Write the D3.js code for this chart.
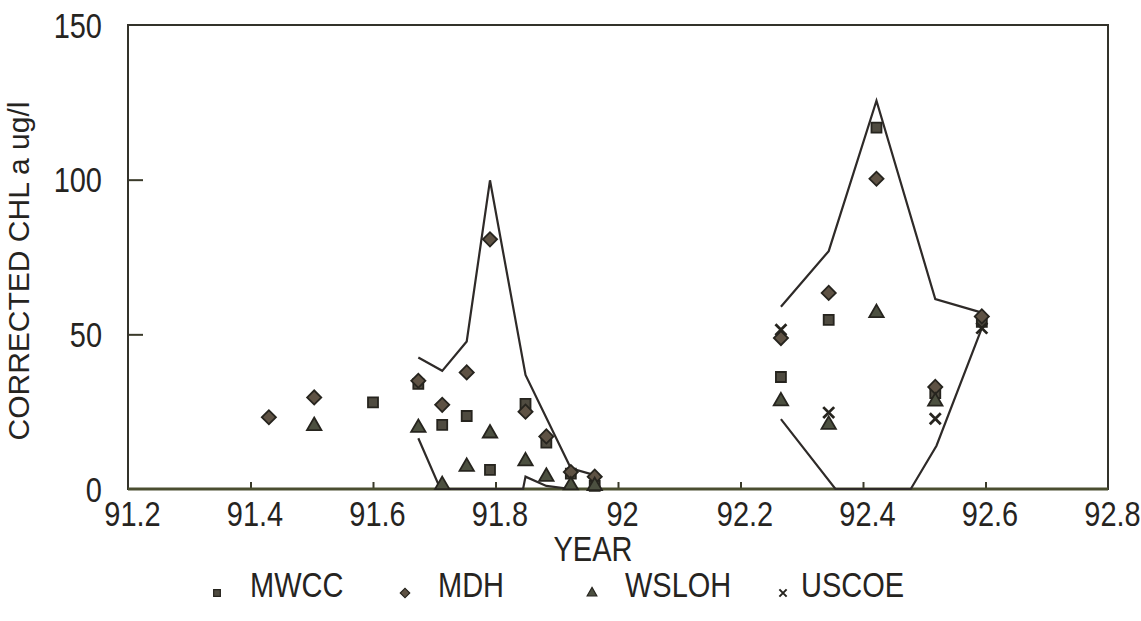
<!DOCTYPE html>
<html>
<head>
<meta charset="utf-8">
<script src="https://cdn.jsdelivr.net/npm/d3@7"></script>
<style>
  body { margin: 0; background: #fff; }
  text { font-family: "Liberation Sans", Arial, sans-serif; fill: #26241f; }
</style>
</head>
<body>
<div id="chart"></div>
<script>
// tick values
var xTicks = [91.2, 91.4, 91.6, 91.8, 92, 92.2, 92.4, 92.6, 92.8];
var yTicks = [0, 50, 100, 150];

// sampling data
var mwccYear = [91.60, 91.674, 91.713, 91.753, 91.791, 91.849, 91.883, 91.923, 91.962, 92.266, 92.344, 92.422, 92.518, 92.594];
var mwccChl  = [28, 34, 20.7, 23.6, 6.2, 27.5, 15, 5, 1, 36.2, 54.7, 116.8, 31, 54];

var mdhYear = [91.43, 91.504, 91.674, 91.713, 91.753, 91.791, 91.849, 91.883, 91.923, 91.962, 92.266, 92.344, 92.422, 92.518, 92.594];
var mdhChl  = [23.2, 29.6, 35, 27.2, 37.7, 80.7, 25, 17, 5.5, 4, 48.8, 63.4, 100.3, 33, 55.8];

var wslohYear = [91.504, 91.674, 91.713, 91.753, 91.791, 91.849, 91.883, 91.923, 91.962, 92.266, 92.344, 92.422, 92.518];
var wslohChl  = [20.4, 19.8, 1.3, 7.2, 18, 9, 4, 1.2, 1, 28.4, 20.8, 56.9, 28.3];

var uscoeYear = [92.266, 92.344, 92.518, 92.594];
var uscoeChl  = [51.5, 24.7, 22.7, 52];

// envelope lines
var upper1Year = [91.674, 91.713, 91.753, 91.791, 91.849, 91.923, 91.962];
var upper1Chl  = [42.5, 38.2, 47.7, 99.8, 36.9, 6.7, 4.5];
var lower1Year = [91.674, 91.71, 91.845, 91.849, 91.883, 91.923];
var lower1Chl  = [16.4, 0, 0, 4, 1, 0];
var upper2Year = [92.266, 92.344, 92.422, 92.518, 92.594];
var upper2Chl  = [58.9, 76.9, 125.5, 61.4, 57];
var lower2Year = [92.266, 92.355, 92.478, 92.52, 92.594];
var lower2Chl  = [22.6, 0, 0, 14, 52];

var margin = {top: 25, right: 33, bottom: 132, left: 128},
    width = 1141 - margin.left - margin.right,
    height = 621 - margin.top - margin.bottom;

var txtScale = "scale(1,1.18)";

var svg = d3.select("#chart")
    .append("svg")
    .attr("width", 1141)
    .attr("height", 621)
    .append("g")
    .attr("transform", "translate(" + margin.left + "," + margin.top + ")");

var x = d3.scaleLinear().domain([91.2, 92.8]).range([0, width]);
var y = d3.scaleLinear().domain([0, 150]).range([height, 0]);

// X axis, ticks pointing in
var xAxis = svg.append("g")
    .attr("transform", "translate(0," + height + ")")
    .call(d3.axisBottom(x).tickValues(xTicks).tickSize(-7).tickFormat(d3.format("")));
xAxis.select(".domain").remove();
xAxis.selectAll("line").attr("stroke", "#3a3a2a").attr("stroke-width", 2)
    .filter(function(d) { return d == 91.2 || d == 92.8; }).remove();
xAxis.selectAll("text")
    .attr("y", 0).attr("dy", 0)
    .attr("transform", "translate(4,37) " + txtScale)
    .style("font-size", "29px");

// Y axis
var yAxis = svg.append("g")
    .call(d3.axisLeft(y).tickValues(yTicks).tickSize(-15));
yAxis.select(".domain").remove();
yAxis.selectAll("line").attr("stroke", "#3a3a2a").attr("stroke-width", 2)
    .filter(function(d) { return d == 0 || d == 150; }).remove();
yAxis.selectAll("text")
    .attr("x", 0).attr("dy", 0)
    .attr("transform", "translate(-26,12) " + txtScale)
    .style("font-size", "29px");

// frame
svg.append("rect")
    .attr("width", width).attr("height", height)
    .attr("fill", "none")
    .attr("stroke", "#33322a")
    .attr("stroke-width", 2);
svg.append("line")
    .attr("x1", 0).attr("x2", width)
    .attr("y1", height).attr("y2", height)
    .attr("stroke", "#4a4e30")
    .attr("stroke-width", 3);

// axis titles
svg.append("text")
    .attr("transform", "translate(" + (x(92) - 25) + "," + (height + 72) + ") " + txtScale)
    .attr("text-anchor", "middle")
    .style("font-size", "29px")
    .text("YEAR");

svg.append("text")
    .attr("transform", "translate(" + (-99) + "," + (height / 2 + 14) + ") rotate(-90)")
    .attr("text-anchor", "middle")
    .style("font-size", "30px")
    .text("CORRECTED CHL a ug/l");

// envelope lines
var line = d3.line()
    .x(function(d) { return x(d[0]); })
    .y(function(d) { return y(d[1]); });

[[upper1Year, upper1Chl], [lower1Year, lower1Chl], [upper2Year, upper2Chl], [lower2Year, lower2Chl]]
  .forEach(function(s) {
    svg.append("path")
        .datum(d3.zip(s[0], s[1]))
        .attr("fill", "none")
        .attr("stroke", "#2e2a28")
        .attr("stroke-width", 2.2)
        .attr("d", line);
  });

// markers
var series = [
  {name: "MWCC",  year: mwccYear,  chl: mwccChl,  type: d3.symbolSquare,   size: 100, rot: 0,  fill: "#4f4b40"},
  {name: "MDH",   year: mdhYear,   chl: mdhChl,   type: d3.symbolSquare,   size: 100, rot: 45, fill: "#5e5244"},
  {name: "WSLOH", year: wslohYear, chl: wslohChl, type: d3.symbolTriangle, size: 90,  rot: 0,  fill: "#4c5040"},
  {name: "USCOE", year: uscoeYear, chl: uscoeChl, type: d3.symbolX,        size: 80,  rot: 0,  fill: "none"}
];

series.forEach(function(s) {
  svg.append("g").selectAll("path")
      .data(d3.zip(s.year, s.chl))
      .enter().append("path")
      .attr("transform", function(d) { return "translate(" + x(d[0]) + "," + y(d[1]) + ") rotate(" + s.rot + ")"; })
      .attr("d", d3.symbol().type(s.type).size(s.size))
      .attr("fill", s.fill)
      .attr("stroke", "#26241e")
      .attr("stroke-width", s.fill == "none" ? 2.8 : 1.8);
});

// legend
var legendX = [217, 405, 592, 783];
var legend = svg.append("g").attr("transform", "translate(" + (-margin.left) + ",0)");
series.forEach(function(s, i) {
  var g = legend.append("g").attr("transform", "translate(" + legendX[i] + "," + (height + 104) + ")");
  g.append("path")
      .attr("transform", "rotate(" + s.rot + ")")
      .attr("d", d3.symbol().type(s.type).size(s.size * 0.45))
      .attr("fill", s.fill)
      .attr("stroke", "#26241e")
      .attr("stroke-width", s.fill == "none" ? 2 : 1.2);
  g.append("text")
      .attr("transform", "translate(" + (i == 3 ? 18 : 33) + ",4) " + txtScale)
      .style("font-size", "29px")
      .text(s.name);
});
</script>
</body>
</html>
